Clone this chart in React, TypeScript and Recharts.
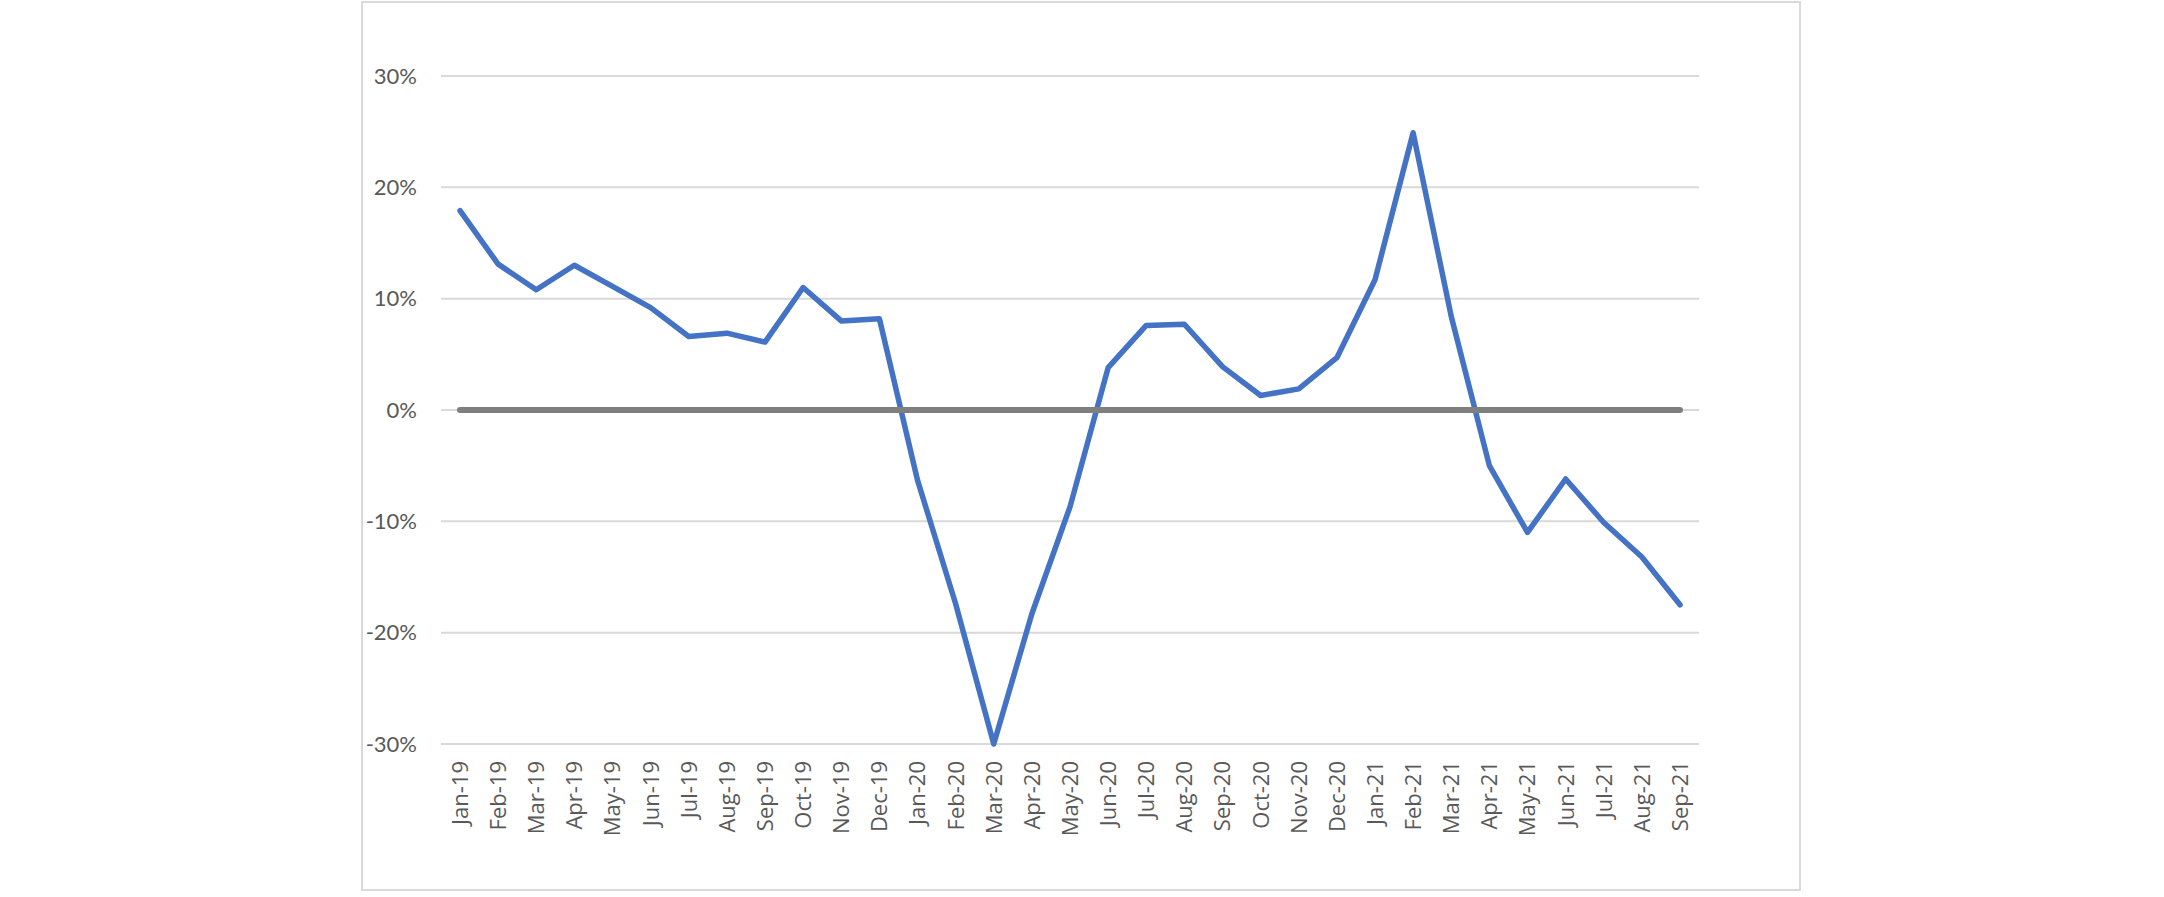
import { LineChart, Line, XAxis, YAxis, CartesianGrid } from 'recharts'

const months = [
  'Jan-19', 'Feb-19', 'Mar-19', 'Apr-19', 'May-19', 'Jun-19', 'Jul-19', 'Aug-19', 'Sep-19', 'Oct-19', 'Nov-19', 'Dec-19',
  'Jan-20', 'Feb-20', 'Mar-20', 'Apr-20', 'May-20', 'Jun-20', 'Jul-20', 'Aug-20', 'Sep-20', 'Oct-20', 'Nov-20', 'Dec-20',
  'Jan-21', 'Feb-21', 'Mar-21', 'Apr-21', 'May-21', 'Jun-21', 'Jul-21', 'Aug-21', 'Sep-21',
]

// year-over-year change, %
const change = [
  17.9, 13.1, 10.8, 13.0, 11.1, 9.2, 6.6, 6.9, 6.1, 11.0, 8.0, 8.2,
  -6.3, -17.4, -30.0, -18.3, -8.7, 3.8, 7.6, 7.7, 3.9, 1.3, 1.9, 4.7,
  11.7, 24.9, 8.4, -5.0, -11.0, -6.2, -10.1, -13.2, -17.5,
]

const baseline = months.map(() => 0)

const yTicks = [-30, -20, -10, 0, 10, 20, 30]

const data = months.map((m, i) => ({ month: m, change: change[i], zero: baseline[i] }))

function MonthTick({ x, y, payload }: any) {
  return (
    <text
      x={x}
      y={y + 17}
      transform={`rotate(-90 ${x} ${y + 17})`}
      textAnchor="end"
      dy="0.36em"
      fontFamily="'Open Sans', sans-serif"
      fontSize={22}
      fill="#595959"
    >
      {payload.value}
    </text>
  )
}

export default function App() {
  return (
    <div style={{ position: 'absolute', left: 0, top: 0, width: 2164, height: 897, background: '#fff' }}>
      <div
        style={{
          position: 'absolute', left: 361, top: 1, width: 1440, height: 890,
          border: '2px solid #d9d9d9', boxSizing: 'border-box',
        }}
      />
      <div style={{ position: 'absolute', left: 0, top: 0 }}>
        <LineChart width={2164} height={897} data={data} margin={{ top: 76, right: 465, left: 0, bottom: 0 }}>
          <CartesianGrid vertical={false} stroke="#d9d9d9" strokeWidth={2} />
          <XAxis
            dataKey="month"
            interval={0}
            height={153}
            axisLine={false}
            tickLine={false}
            tickSize={0}
            tickMargin={0}
            padding={{ left: 19, right: 19 }}
            tick={<MonthTick />}
          />
          <YAxis
            width={441}
            domain={[-30, 30]}
            ticks={yTicks}
            axisLine={false}
            tickLine={false}
            tickSize={0}
            tickMargin={24}
            tickFormatter={(v) => `${v}%`}
            tick={{ fontSize: 22, fill: '#595959', fontFamily: 'Lato, sans-serif' }}
          />
          <Line
            dataKey="change"
            stroke="#4472C4"
            strokeWidth={5.5}
            strokeLinejoin="round"
            strokeLinecap="round"
            dot={false}
            isAnimationActive={false}
          />
          <Line
            dataKey="zero"
            stroke="#7f7f7f"
            strokeWidth={6}
            strokeLinecap="round"
            dot={false}
            isAnimationActive={false}
          />
        </LineChart>
      </div>
    </div>
  )
}
